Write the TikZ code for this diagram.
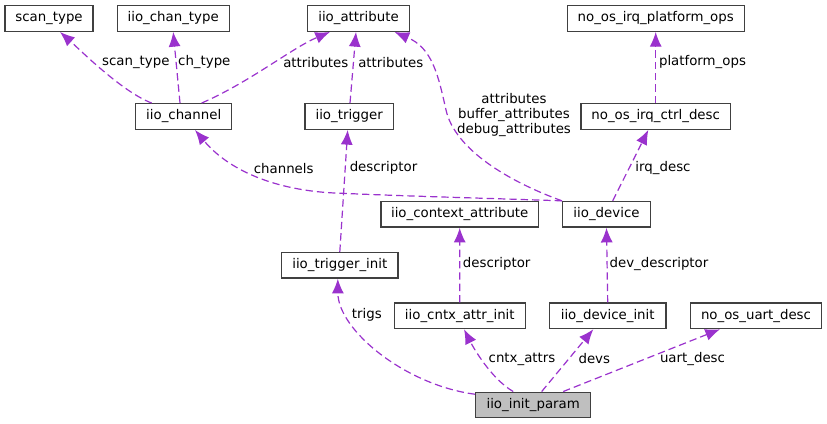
\documentclass[tikz,border=0pt]{standalone}
\usepackage{fontspec}
\setmainfont{DejaVu Sans}
\usetikzlibrary{arrows.meta,calc}
\definecolor{edgec}{HTML}{9A32CD}
\definecolor{hilite}{HTML}{BFBFBF}
\begin{document}
\begin{tikzpicture}[x=0.75pt,y=-0.75pt,
  cls/.style={draw=black!75, line width=1pt, fill=white, minimum height=19.2pt, inner sep=0pt, font=\fontsize{10}{12}\selectfont},
  lbl/.style={font=\fontsize{10}{11.25}\selectfont, inner sep=0pt, align=center},
  rel/.style={edgec, line width=0.9pt, dash pattern=on 5.5pt off 3pt, -{Latex[length=11pt,width=9pt]}}]
\useasboundingbox (0,0) rectangle (827,424);

% classes
\node[cls, minimum width=66pt]    (scan)  at (49,18.5)    {scan\_type};
\node[cls, minimum width=84pt]    (chan)  at (173.2,18.5) {iio\_chan\_type};
\node[cls, minimum width=76.3pt]  (attr)  at (358.5,18.5) {iio\_attribute};
\node[cls, minimum width=132.8pt] (plat)  at (655.7,18.5) {no\_os\_irq\_platform\_ops};
\node[cls, minimum width=72pt]    (ch)    at (183.7,116.5) {iio\_channel};
\node[cls, minimum width=66.2pt]  (trig)  at (349.2,116.5) {iio\_trigger};
\node[cls, minimum width=112pt]   (irqc)  at (655.7,116.5) {no\_os\_irq\_ctrl\_desc};
\node[cls, minimum width=118pt]   (ctx)   at (459.7,214.3) {iio\_context\_attribute};
\node[cls, minimum width=65.8pt]  (dev)   at (606.5,214.3) {iio\_device};
\node[cls, minimum width=87.2pt]  (tinit) at (339.8,265.3) {iio\_trigger\_init};
\node[cls, minimum width=98.3pt]  (cinit) at (459.8,315.8) {iio\_cntx\_attr\_init};
\node[cls, minimum width=87.5pt]  (dinit) at (607.7,315.8) {iio\_device\_init};
\node[cls, minimum width=98.5pt]  (uart)  at (756,315.8)   {no\_os\_uart\_desc};
\node[cls, minimum width=86.3pt, fill=hilite] (param) at (533.2,405) {iio\_init\_param};

% relations
\draw[rel] ($(ch.north)+(-32,0)$) .. controls (122,92) and (78,48) .. ($(scan.south)+(11,0)$);
\draw[rel] ($(ch.north)+(-3.7,0)$) -- (chan.south);
\draw[rel] ($(ch.north)+(18,0)$) .. controls (250,82) and (292,48) .. ($(attr.south)+(-28.5,0)$);
\draw[rel] ($(trig.north)+(0.8,0)$) -- ($(attr.south)+(-2.5,0)$);
\draw[rel] (dev.north west) .. controls (510,182) and (455,150) .. (446,110)
   .. controls (438,74) and (432,48) .. ($(attr.south)+(36,0)$);
\draw[rel] (dev.north west) .. controls (480,198) and (400,196) .. (343,193.3)
   .. controls (280,192) and (230,172) .. ($(ch.south)+(11.3,0)$);
\draw[rel] ($(dev.north)+(6.2,0)$) -- ($(irqc.south)+(-7.4,0)$);
\draw[rel] (irqc.north) -- (plat.south);
\draw[rel] (tinit.north) -- ($(trig.south)+(-1.5,0)$);
\draw[rel] (cinit.north) -- (ctx.south);
\draw[rel] (dinit.north) -- (dev.south);
\draw[rel] ($(param.north west)+(0,2.7)$) .. controls (405,385) and (338,330) .. ($(tinit.south)+(-2,0)$);
\draw[rel] ($(param.north)+(-20,0)$) .. controls (490,378) and (472,345) .. ($(cinit.south)+(4.2,0)$);
\draw[rel] ($(param.north)+(8.5,0)$) -- ($(dinit.south)+(-14.4,0)$);
\draw[rel] ($(param.north)+(30,0)$) -- ($(uart.south)+(-36,0)$);

% labels
\node[lbl] (l1)  at (135.8,62.3) {scan\_type};
\node[lbl] (l2)  at (204.3,62.3) {ch\_type};
\node[lbl] (l3)  at (315.8,62.3) {attributes};
\node[lbl] (l4)  at (390.8,62.3) {attributes};
\node[lbl] (l5)  at (514,115)    {attributes\\buffer\_attributes\\debug\_attributes};
\node[lbl] (l6)  at (702.5,62.3) {platform\_ops};
\node[lbl] (l7)  at (283.7,168.3) {channels};
\node[lbl] (l8)  at (383.5,168.3) {descriptor};
\node[lbl] (l9)  at (663,168.3)  {irq\_desc};
\node[lbl] (l10) at (496.7,264.3) {descriptor};
\node[lbl] (l11) at (659,264.3)  {dev\_descriptor};
\node[lbl] (l12) at (366.8,315)  {trigs};
\node[lbl] (l13) at (522,359)    {cntx\_attrs};
\node[lbl] (l14) at (594.3,359)  {devs};
\node[lbl] (l15) at (692.5,359)  {uart\_desc};
\end{tikzpicture}
\end{document}
